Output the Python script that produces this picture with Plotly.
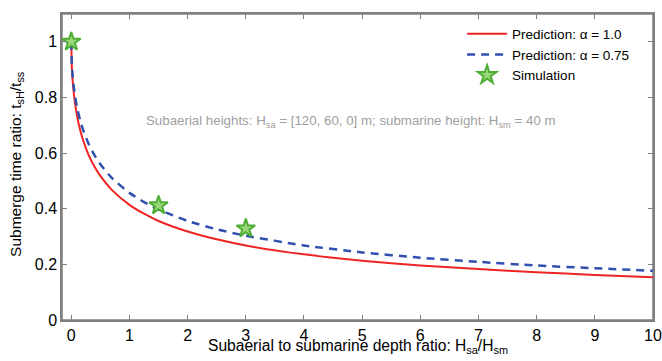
import plotly.graph_objects as go

# Depth ratio sample points (x) and curve values
ratio_x = [0, 0.01, 0.03, 0.06, 0.1, 0.15, 0.2, 0.3, 0.4, 0.5, 0.7, 1, 1.25, 1.5,
           2, 2.5, 3, 4, 5, 6, 7, 8, 9, 10]
pred_alpha_100 = [1.0, 0.905, 0.842, 0.785, 0.733, 0.685, 0.648, 0.592, 0.551, 0.518,
                  0.467, 0.414, 0.382, 0.356, 0.318, 0.290, 0.268, 0.236, 0.213,
                  0.196, 0.183, 0.172, 0.162, 0.154]
pred_alpha_075 = [1.0, 0.917, 0.861, 0.810, 0.763, 0.719, 0.685, 0.632, 0.592, 0.560,
                  0.510, 0.457, 0.424, 0.397, 0.356, 0.326, 0.303, 0.268, 0.243,
                  0.224, 0.209, 0.196, 0.186, 0.177]
sim_x = [0, 1.5, 3]
sim_y = [1.0, 0.412, 0.329]

x_ticks = [0, 1, 2, 3, 4, 5, 6, 7, 8, 9, 10]
y_ticks = [0, 0.2, 0.4, 0.6, 0.8, 1]
y_tick_labels = ["0", "0.2", "0.4", "0.6", "0.8", "1"]

FONT = "Liberation Sans, Arial, Helvetica, sans-serif"

fig = go.Figure()
fig.add_trace(go.Scatter(
    x=ratio_x, y=pred_alpha_100, mode="lines", name="Prediction: α = 1.0",
    line=dict(color="#ee2424", width=2, shape="spline", smoothing=0.6)))
fig.add_trace(go.Scatter(
    x=ratio_x, y=pred_alpha_075, mode="lines", name="Prediction: α = 0.75",
    line=dict(color="#3050b0", width=2.5, dash="8px,6px", shape="spline", smoothing=0.6)))
fig.add_trace(go.Scatter(
    x=sim_x, y=sim_y, mode="markers", name="Simulation",
    marker=dict(symbol="star", size=14, color="#9ad67a",
                line=dict(color="#4fae35", width=2))))

fig.add_annotation(
    x=4.8, y=0.714, xref="x", yref="y", showarrow=False,
    text="Subaerial heights: H<sub>sa</sub> = [120, 60, 0] m; submarine height: H<sub>sm</sub> = 40 m",
    font=dict(family=FONT, size=13.3, color="#a0a0a0"))

# axis titles as annotations so they can sit close to the tick labels
fig.add_annotation(
    x=0.5, y=0, xref="paper", yref="paper", xanchor="center", yanchor="middle",
    yshift=-26, showarrow=False,
    text="Subaerial to submarine depth ratio: H<sub>sa</sub>/H<sub>sm</sub>",
    font=dict(family=FONT, size=15.6, color="#000000"))
fig.add_annotation(
    x=0, y=0.51, xref="paper", yref="paper", xanchor="center", yanchor="middle",
    xshift=-45, showarrow=False, textangle=-90,
    text="Submerge time ratio: t<sub>sH</sub>/t<sub>ss</sub>",
    font=dict(family=FONT, size=15.5, color="#000000"))

# box frame around the plot area
fig.add_shape(type="rect", xref="paper", yref="paper", x0=0, x1=1, y0=0, y1=1,
              line=dict(color="#808080", width=1.5), layer="below")

axis_common = dict(
    showline=True, linecolor="#808080", linewidth=1.5, mirror="ticks",
    ticks="inside", ticklen=5, tickcolor="#808080", tickwidth=1,
    showgrid=False, zeroline=False, automargin=False,
    tickfont=dict(family=FONT, size=16, color="#000000"))

fig.update_xaxes(range=[-0.16, 10], tickvals=x_ticks,
                 ticktext=[str(v) for v in x_ticks], **axis_common)
fig.update_yaxes(range=[0, 1.1], tickvals=y_ticks, ticktext=y_tick_labels,
                 **axis_common)

fig.update_layout(
    width=662, height=361,
    margin=dict(l=62, r=9, t=14, b=41),
    paper_bgcolor="white", plot_bgcolor="white",
    showlegend=True,
    legend=dict(x=0.677, y=0.985, xanchor="left", yanchor="top",
                bgcolor="rgba(0,0,0,0)", borderwidth=0,
                font=dict(family=FONT, size=13.5, color="#000000"),
                itemwidth=40, tracegroupgap=0),
)

# remove the default page margin so the figure fills the 662x361 window
fig.write_html(
    "out.html",
    config={"displayModeBar": False},
    post_script="document.body.style.margin='0';document.body.style.overflow='hidden';")
